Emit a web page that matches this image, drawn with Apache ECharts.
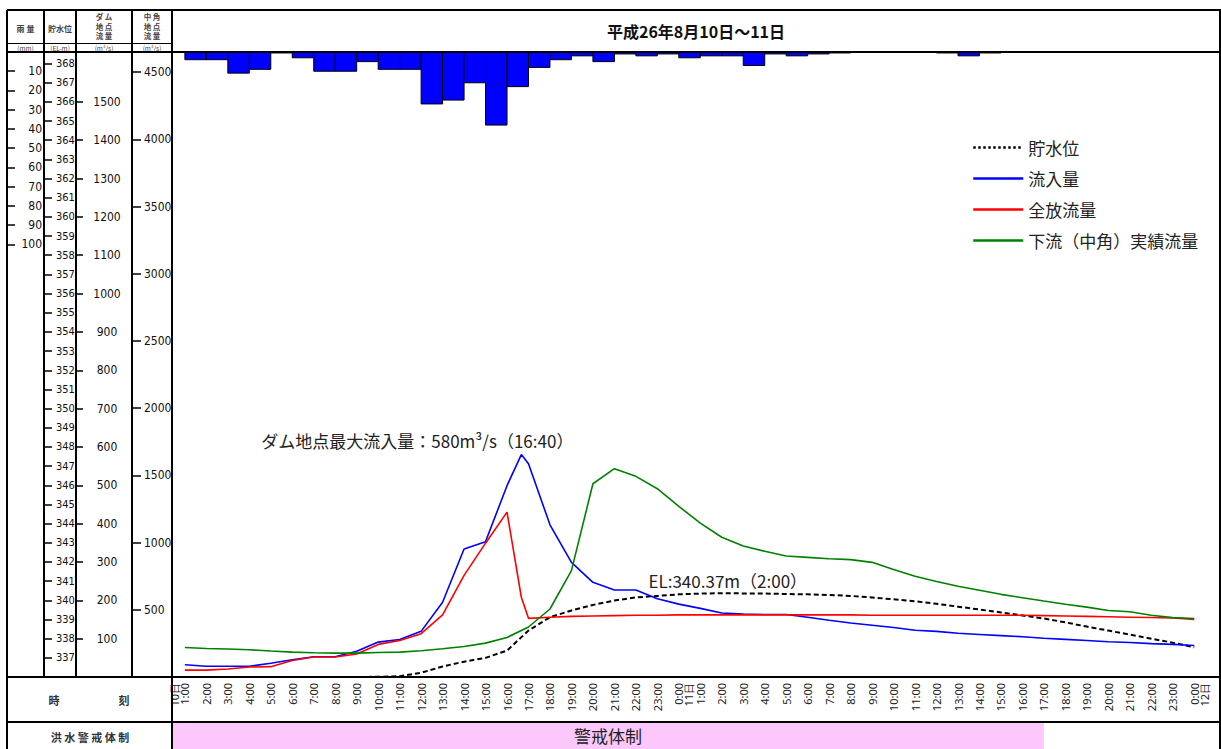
<!DOCTYPE html>
<html>
<head>
<meta charset="utf-8">
<script src="https://cdn.jsdelivr.net/npm/echarts@6/dist/echarts.min.js"></script>
<style>
  html, body { margin: 0; padding: 0; background: #fff; }
  #chart { width: 1221px; height: 749px; }
</style>
</head>
<body>
<div id="chart"></div>
<script>
// ---- data (hours counted from 10日 0:00; 24 = 11日 0:00, 48 = 12日 0:00) ----
const hours = [1, 2, 3, 4, 5, 6, 7, 8, 9, 10, 11, 12, 13, 14, 15, 16, 16.667,
  17, 18, 19, 20, 21, 22, 23, 24,
  25, 26, 27, 28, 29, 30, 31, 32, 33, 34, 35, 36, 37, 38, 39, 40, 41, 42, 43, 44, 45, 46, 47, 48];

// 流入量 (m3/s)
const inflow = [32, 28, 28, 28, 36, 45, 53, 53, 67, 91, 98, 119, 195, 334, 353, 499, 580,
  556, 397, 299, 247, 227, 227, 204, 190,
  179, 167, 164, 163, 163, 156, 148, 141, 135, 129, 122, 119, 114, 111, 108, 105, 101, 98, 95, 92, 90, 87, 85, 82];

// 全放流量 (m3/s)
const outflow = [18, 18, 21, 26, 27, 43, 52, 52, 60, 85, 95, 113, 162, 265, 349, 430, 208,
  153, 156, 158, 159, 160, 161, 161, 162,
  162, 162, 162, 162, 162, 162, 162, 162, 161, 161, 161, 161, 161, 161, 161, 161, 160, 159, 158, 157, 156, 155, 154, 150];

// 下流（中角）実績流量 (m3/s)
const downstream = [220, 212, 208, 203, 193, 185, 180, 178, 178, 182, 185, 195, 210, 227, 252, 294, null,
  372, 506, 791, 1438, 1550, 1493, 1401, 1270,
  1145, 1040, 975, 935, 900, 890, 880, 873, 853, 800, 750, 710, 675, 645, 615, 590, 565, 541, 520, 495, 485, 460, 442, 435];

// 貯水位 (EL-m)
const storage = [null, null, null, null, null, null, null, 336.00, 336.00, 336.01, 336.04, 336.22, 336.55, 336.80, 337.00, 337.38, null,
  338.42, 339.12, 339.47, 339.76, 339.99, 340.15, 340.23, 340.31,
  340.35, 340.37, 340.36, 340.35, 340.33, 340.31, 340.28, 340.23, 340.15, 340.05, 339.95, 339.82, 339.67, 339.52,
  339.37, 339.21, 339.05, 338.85, 338.63, 338.42, 338.21, 338.00, 337.79, 337.55];

// 雨量 (mm) per hour, first value covers 10日 1:00-2:00
const rainStartHour = 1;
const rainfall = [4, 4, 11, 9, 0.5, 3, 10, 10, 5, 9, 9, 27, 25, 16, 38, 18, 8, 4, 2, 5, 1, 2, 1, 3, 2, 2, 7, 1, 2, 1, 0.5,
  0, 0, 0, 0, 0.5, 2, 0.5];

// peak annotations
const peakInflowHour = 16.667;
const peakInflowTime = '16:40';
const peakInflow = 580;
const peakLevelHour = 26;
const peakLevelTime = '2:00';
const peakLevel = 340.37;

// 洪水警戒体制 period
const alertStart = 0;
const alertEnd = 41;
const alertText = '警戒体制';

// axis ticks
const dayNames = ['10日', '11日', '12日'];
const tickHours = [];
for (let h = 1; h <= 48; h++) tickHours.push(h);
const rainTicks = [10, 20, 30, 40, 50, 60, 70, 80, 90, 100];
const levelTicks = [];
for (let v = 337; v <= 368; v++) levelTicks.push(v);
const damTicks = [];
for (let v = 100; v <= 1500; v += 100) damTicks.push(v);
const nakaTicks = [];
for (let v = 500; v <= 4500; v += 500) nakaTicks.push(v);

const titleText = '平成26年8月10日～11日';
const seriesNames = ['貯水位', '流入量', '全放流量', '下流（中角）実績流量'];

// ---- scales ----
const X_MIN = 0.4, X_MAX = 49.2;
const EL_MIN = 336, EL_MAX = 368.6;
const DAM_MAX = (EL_MAX - EL_MIN) * 50;
const NAKA_MAX = 4650;
const RAIN_MAX = 325;

const CJK = '"Noto Sans CJK JP", sans-serif';
const NARROW = '"Liberation Sans Narrow", "DejaVu Sans Condensed", "Noto Sans", sans-serif';
const HOURFONT = '"Noto Sans", "DejaVu Sans", sans-serif';
const PLOT = { left: 172, top: 52, width: 1048, height: 625 };

const pairs = vals => hours.map((h, i) => [h, vals[i]]);
const rainData = rainfall.map((v, i) => [rainStartHour + i, rainStartHour + i + 1, v]);

function hourLabel(v) {
  const h = Math.round(v);
  const t = (h % 24) + ':00';
  if (h === 1) return dayNames[0] + '\n' + t + '\n ';
  if (h % 24 === 0) return ' \n' + t + '\n' + dayNames[h / 24];
  return t;
}
const plainNumber = v => String(v);

function rainItem(params, api) {
  const v = api.value(2);
  if (!v) return null;
  const a = api.coord([api.value(0), 0]);
  const b = api.coord([api.value(1), v]);
  return {
    type: 'rect',
    shape: { x: a[0], y: a[1], width: b[0] - a[0], height: b[1] - a[1] },
    style: { fill: '#0000ff', stroke: '#000', lineWidth: 1 }
  };
}

function bandItem(params, api) {
  const a = api.coord([api.value(0), 1]);
  const b = api.coord([api.value(1), 0]);
  const cs = params.coordSys;
  const shape = echarts.graphic.clipRectByRect(
    { x: a[0], y: a[1], width: b[0] - a[0], height: b[1] - a[1] },
    { x: cs.x, y: cs.y, width: cs.width, height: cs.height });
  if (!shape) return null;
  return {
    type: 'rect',
    shape: shape,
    style: { fill: '#fcc8fc' },
    textContent: { style: { text: alertText, fontSize: 17, fontFamily: CJK, fill: '#222' } },
    textConfig: { position: 'inside' }
  };
}

// ---- table frame and header texts ----
const Z = 100;
function hLine(x1, x2, y, w) {
  return { type: 'line', silent: true, z: Z, shape: { x1: x1, y1: y, x2: x2, y2: y }, style: { stroke: '#000', lineWidth: w } };
}
function vLine(x, y1, y2, w) {
  return { type: 'line', silent: true, z: Z, shape: { x1: x, y1: y1, x2: x, y2: y2 }, style: { stroke: '#000', lineWidth: w } };
}
function txt(x, y, text, size, extra) {
  return {
    type: 'text', silent: true, z: Z, x: x, y: y,
    style: Object.assign({
      text: text, fontSize: size, fontFamily: CJK, fill: '#222',
      align: 'center', verticalAlign: 'middle', textAlign: 'center', textVerticalAlign: 'middle'
    }, extra || {})
  };
}
const HEAD = { fontWeight: 'bold', fill: '#444' };

const graphics = [
  hLine(7, 1221, 10, 2),
  hLine(7, 172, 43.5, 1),
  hLine(7, 1221, 52, 2),
  hLine(7, 1221, 677, 2),
  hLine(7, 1221, 722, 2),
  vLine(7, 10, 749, 2),
  vLine(44, 10, 677, 2),
  vLine(76, 10, 677, 2),
  vLine(132, 10, 677, 2),
  vLine(172, 10, 749, 2),
  vLine(1220, 10, 749, 2),
  txt(696, 31, titleText, 16, { fontWeight: 'bold', fill: '#111' }),
  txt(25.5, 28, '雨 量', 8, HEAD),
  txt(60, 28, '貯水位', 8, HEAD),
  txt(104, 16.5, 'ダ ム', 7.5, HEAD),
  txt(104, 26, '地 点', 7.5, HEAD),
  txt(104, 35.5, '流 量', 7.5, HEAD),
  txt(152, 16.5, '中 角', 7.5, HEAD),
  txt(152, 26, '地 点', 7.5, HEAD),
  txt(152, 35.5, '流 量', 7.5, HEAD),
  txt(25.5, 48, '(mm)', 6.5, { fill: '#444' }),
  txt(60, 48, '(EL-m)', 6.5, { fill: '#444' }),
  txt(104, 48, '(m³/s)', 6.5, { fill: '#444' }),
  txt(152, 48, '(m³/s)', 6.5, { fill: '#444' }),
  txt(54, 700, '時', 11, { fontWeight: 'bold', fill: '#333' }),
  txt(124, 700, '刻', 11, { fontWeight: 'bold', fill: '#333' }),
  txt(90, 737, '洪 水 警 戒 体 制', 11, { fontWeight: 'bold', fill: '#333' })
];

// ---- axes ----
function leftAxis(o) {
  return Object.assign({
    type: 'value', gridIndex: 0, position: 'left',
    axisLine: { show: false }, splitLine: { show: false },
    axisTick: { show: true, inside: true, length: 8, customValues: o.ticks, lineStyle: { color: '#000', width: 1.5 } },
    axisLabel: Object.assign({
      inside: true, customValues: o.ticks, fontSize: 11, fontFamily: NARROW, color: '#111', hideOverlap: false,
      showMinLabel: true, showMaxLabel: true, formatter: plainNumber
    }, o.label)
  }, o.axis);
}

const yAxes = [
  leftAxis({ ticks: damTicks, axis: { offset: 96, min: 0, max: DAM_MAX }, label: { margin: 31, align: 'center', fontSize: 12 } }),
  leftAxis({ ticks: levelTicks, axis: { offset: 128, min: EL_MIN, max: EL_MAX }, label: { margin: 12 } }),
  leftAxis({ ticks: nakaTicks, axis: { offset: 40, min: 0, max: NAKA_MAX }, label: { margin: 12, fontSize: 12 } }),
  leftAxis({ ticks: rainTicks, axis: { offset: 165, min: 0, max: RAIN_MAX, inverse: true }, label: { margin: 35, align: 'right', fontSize: 12 } }),
  { type: 'value', gridIndex: 1, min: 0, max: 1, show: false }
];
yAxes[0].axisTick.length = 7;
yAxes[2].axisTick.length = 9;

const lineBase = { type: 'line', showSymbol: false, symbol: 'none', connectNulls: true, xAxisIndex: 0, silent: true };
const legendLine = (extra) => Object.assign({ width: 2.5 }, extra || {});

const option = {
  animation: false,
  backgroundColor: '#fff',
  textStyle: { fontFamily: CJK },
  grid: [
    { left: PLOT.left, top: PLOT.top, width: PLOT.width, height: PLOT.height, containLabel: false, outerBoundsMode: 'none' },
    { left: PLOT.left, top: 722, width: PLOT.width, height: 27, containLabel: false, outerBoundsMode: 'none' }
  ],
  xAxis: [
    {
      type: 'value', gridIndex: 0, position: 'bottom', min: X_MIN, max: X_MAX,
      axisLine: { show: false }, axisTick: { show: false }, splitLine: { show: false },
      axisLabel: {
        customValues: tickHours, rotate: 90, margin: 6, fontSize: 11, lineHeight: 10,
        fontFamily: HOURFONT, color: '#222', formatter: hourLabel, hideOverlap: false,
        showMinLabel: true, showMaxLabel: true
      }
    },
    { type: 'value', gridIndex: 1, min: X_MIN, max: X_MAX, show: false }
  ],
  yAxis: yAxes,
  legend: {
    orient: 'vertical', left: 972, top: 139,
    itemWidth: 50, itemHeight: 14, itemGap: 14, padding: 0,
    selectedMode: false,
    itemStyle: { opacity: 0, borderWidth: 0 },
    textStyle: { fontSize: 17, fontFamily: CJK, color: '#222' },
    data: [
      { name: seriesNames[0], itemStyle: { opacity: 0 }, lineStyle: legendLine({ type: 'dotted', color: '#000' }) },
      { name: seriesNames[1], itemStyle: { opacity: 0 }, lineStyle: legendLine() },
      { name: seriesNames[2], itemStyle: { opacity: 0 }, lineStyle: legendLine() },
      { name: seriesNames[3], itemStyle: { opacity: 0 }, lineStyle: legendLine() }
    ]
  },
  graphic: graphics,
  series: [
    {
      name: '雨量', type: 'custom', xAxisIndex: 0, yAxisIndex: 3, silent: true,
      renderItem: rainItem, encode: { x: [0, 1], y: 2 }, data: rainData
    },
    {
      name: '洪水警戒体制', type: 'custom', xAxisIndex: 1, yAxisIndex: 4, silent: true,
      renderItem: bandItem, encode: { x: [0, 1] }, data: [[alertStart, alertEnd]]
    },
    Object.assign({}, lineBase, {
      name: seriesNames[0], yAxisIndex: 1, data: pairs(storage),
      itemStyle: { color: '#000' },
      lineStyle: { color: '#000', width: 2, type: [5, 3] },
      markPoint: {
        silent: true, symbol: 'circle', symbolSize: 0,
        data: [{ coord: [peakLevelHour, peakLevel] }],
        label: {
          show: true, position: 'inside', offset: [6, -13], fontSize: 17, fontFamily: CJK, color: '#222',
          formatter: 'EL:' + peakLevel.toFixed(2) + 'm（' + peakLevelTime + '）'
        }
      }
    }),
    Object.assign({}, lineBase, {
      name: seriesNames[1], yAxisIndex: 0, data: pairs(inflow),
      itemStyle: { color: '#0000ff' },
      lineStyle: { color: '#0000ff', width: 1.6 },
      markPoint: {
        silent: true, symbol: 'circle', symbolSize: 0,
        data: [{ coord: [peakInflowHour, peakInflow] }],
        label: {
          show: true, position: 'inside', offset: [-104, -14], fontSize: 17, fontFamily: CJK, color: '#222',
          formatter: 'ダム地点最大流入量：' + peakInflow + 'm³/s（' + peakInflowTime + '）'
        }
      }
    }),
    Object.assign({}, lineBase, {
      name: seriesNames[2], yAxisIndex: 0, data: pairs(outflow),
      itemStyle: { color: '#ff0000' },
      lineStyle: { color: '#ff0000', width: 1.6 }
    }),
    Object.assign({}, lineBase, {
      name: seriesNames[3], yAxisIndex: 2, data: pairs(downstream),
      itemStyle: { color: '#008000' },
      lineStyle: { color: '#008000', width: 1.6 }
    })
  ]
};

const chart = echarts.init(document.getElementById('chart'), null, { renderer: 'svg', width: 1221, height: 749 });
chart.setOption(option);
</script>
</body>
</html>
